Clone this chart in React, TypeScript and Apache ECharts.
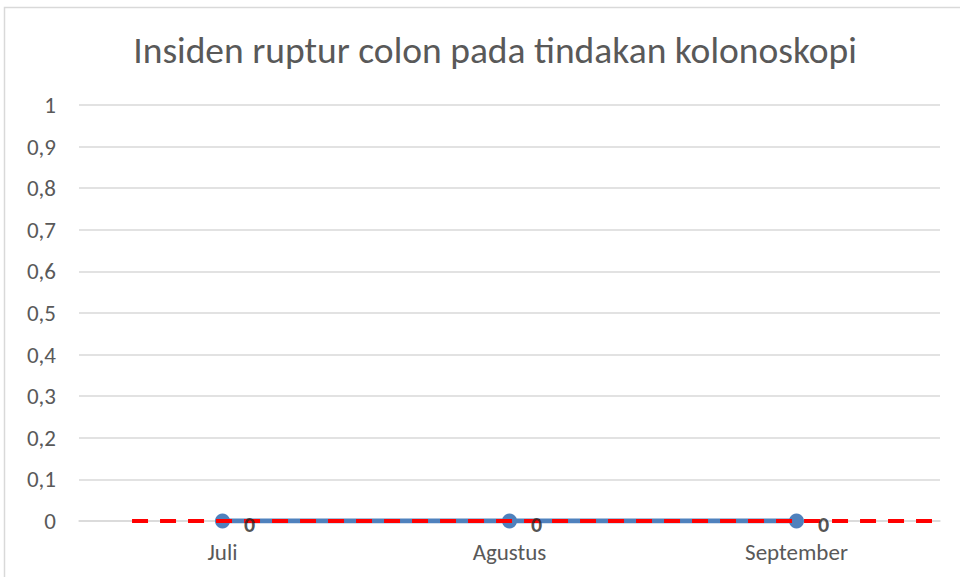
import React, { useEffect, useRef } from "react";
import * as echarts from "echarts";

const categories = ["Juli", "Agustus", "September"];
const incidentValues = [0, 0, 0];
// target line endpoints on a hidden 0..1 horizontal scale, with its value
const targetX = [0.0616, 0.9907];
const targetValue = 0;
const titleText = "Insiden ruptur colon pada tindakan kolonoskopi";

const FONT = "Carlito, 'Open Sans', sans-serif";

export default function App() {
  const ref = useRef<HTMLDivElement>(null);
  useEffect(() => {
    if (!ref.current) return;
    const chart = echarts.init(ref.current, undefined, { renderer: "svg" });
    chart.setOption({
      animation: false,
      backgroundColor: "#ffffff",
      title: {
        text: titleText,
        left: 490,
        top: 26,
        textAlign: "center",
        textStyle: { fontFamily: FONT, fontSize: 37.5, fontWeight: "normal", color: "#595959" },
      },
      graphic: [
        {
          type: "rect",
          shape: { x: 4.5, y: 7.5, width: 1000, height: 700 },
          style: { fill: "none", stroke: "#d9d9d9", lineWidth: 1.5 },
          silent: true,
        },
      ],
      grid: { left: 79, right: 20, top: 105, bottom: 56 },
      xAxis: [
        {
          type: "category",
          data: categories,
          boundaryGap: true,
          axisLine: { show: true, lineStyle: { color: "#d9d9d9", width: 1.5 } },
          axisTick: { show: false },
          axisLabel: { fontFamily: FONT, fontSize: 23, color: "#595959", margin: 19 },
          splitLine: { show: false },
        },
        {
          type: "value",
          min: 0,
          max: 1,
          show: false,
          position: "bottom",
        },
      ],
      yAxis: {
        type: "value",
        min: 0,
        max: 1,
        interval: 0.1,
        axisLine: { show: false },
        axisTick: { show: false },
        axisLabel: {
          fontFamily: FONT,
          fontSize: 23,
          color: "#595959",
          margin: 23,
          formatter: (v: number) => {
            const r = Math.round(v * 10) / 10;
            return r === 0 || r === 1 ? String(r) : r.toFixed(1).replace(".", ",");
          },
        },
        splitLine: { lineStyle: { color: "#d9d9d9", width: 1.5 } },
      },
      series: [
        {
          type: "line",
          name: "Insiden",
          data: incidentValues,
          xAxisIndex: 0,
          symbol: "circle",
          symbolSize: 15,
          z: 2,
          itemStyle: { color: "#4f81bd" },
          lineStyle: { color: "#4f81bd", width: 5 },
        },
        {
          type: "line",
          name: "Target",
          xAxisIndex: 1,
          data: targetX.map((x) => [x, targetValue]),
          symbol: "none",
          z: 3,
          lineStyle: { color: "#ff0000", width: 4, type: [16, 12] },
        },
        {
          type: "scatter",
          name: "Label",
          data: incidentValues,
          xAxisIndex: 0,
          symbolSize: 15,
          itemStyle: { color: "rgba(0,0,0,0)" },
          z: 5,
          label: {
            show: true,
            position: "right",
            distance: 14,
            offset: [0, 3],
            fontFamily: FONT,
            fontSize: 22,
            fontWeight: 700,
            color: "#262626",
            textBorderWidth: 0,
          },
        },
      ],
    });
    return () => chart.dispose();
  }, []);
  return (
    <div
      ref={ref}
      style={{ position: "fixed", left: 0, top: 0, width: 960, height: 577 }}
    />
  );
}
